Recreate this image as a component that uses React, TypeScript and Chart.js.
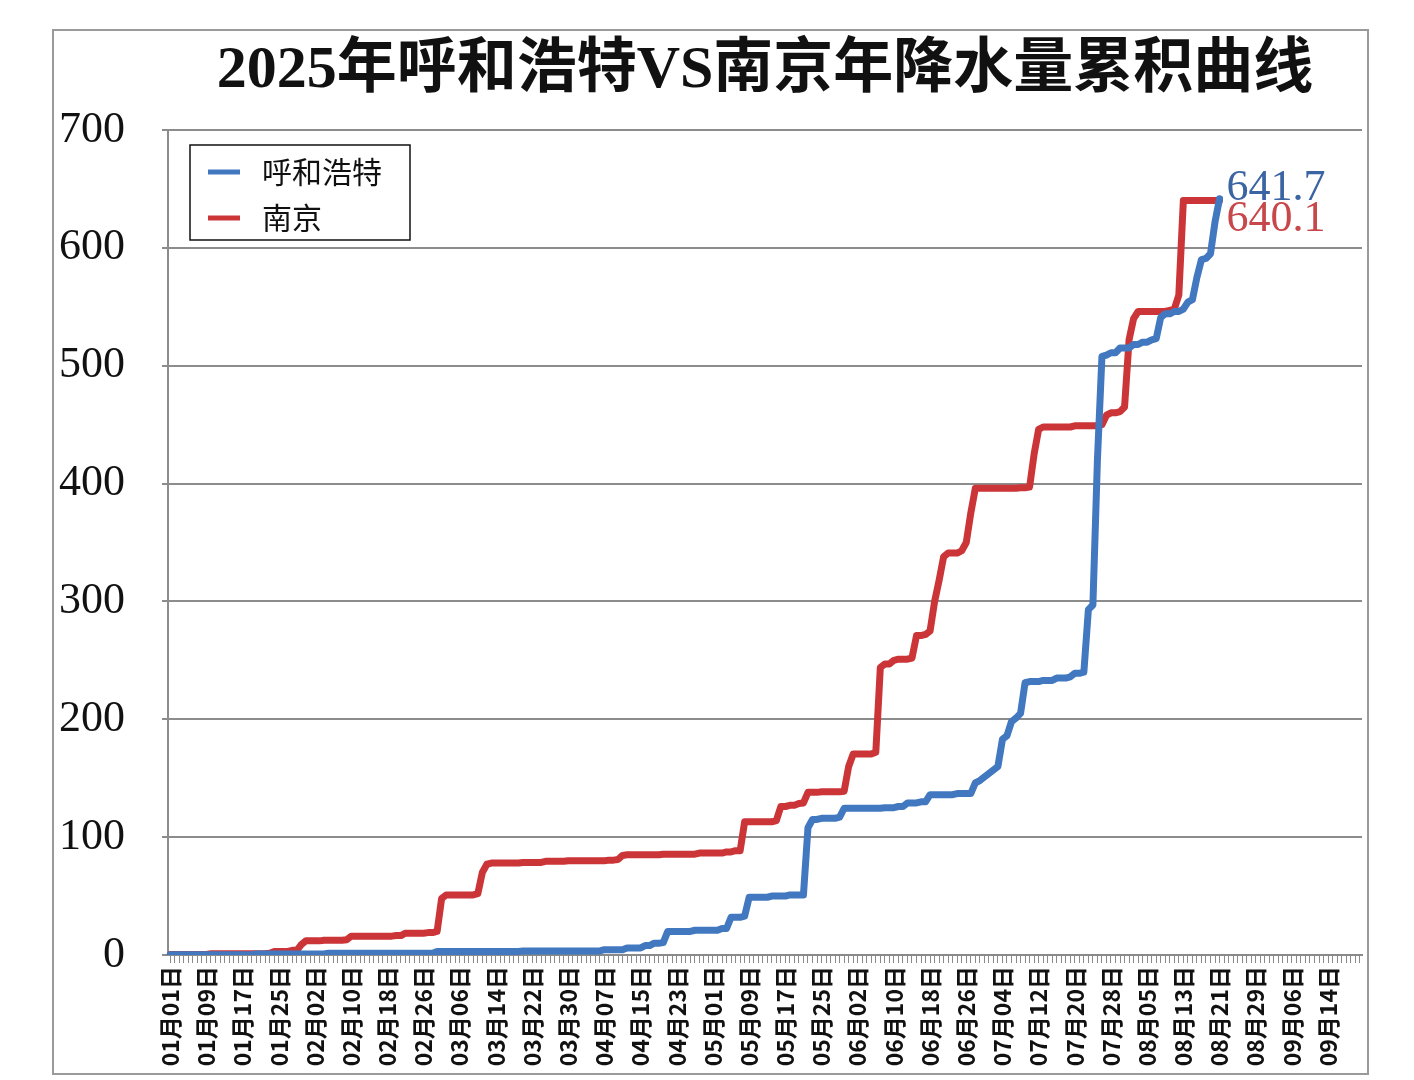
import React, { useEffect, useRef } from 'react';
import { Chart, registerables } from 'chart.js';

Chart.register(...registerables);

const TITLE = '2025年呼和浩特VS南京年降水量累积曲线';
const SERIES_NAMES = ['呼和浩特', '南京'];
const SERIES_COLORS = ['#4178c0', '#cc3538'];
const END_LABEL_COLORS = ['#3b64a3', '#c8474a'];

// Category axis: every day from 01-01 to 09-21
const AXIS_MONTH_DAYS = [31, 28, 31, 30, 31, 30, 31, 31, 21];
const LABEL_EVERY = 8;
const DATA_END = '08-21';

const Y_MIN = 0;
const Y_MAX = 700;
const Y_STEP = 100;

// 呼和浩特: cumulative precipitation (mm) on the days it changed
const hhhtDates = [
  '01-01', '01-20', '02-05', '03-01', '03-20', '04-07', '04-12', '04-16', '04-18', '04-20',
  '04-21', '04-27', '05-03', '05-05', '05-08', '05-09', '05-14', '05-18', '05-22', '05-23',
  '05-25', '05-29', '05-30', '06-08', '06-11', '06-13', '06-16', '06-18', '06-24', '06-28',
  '06-29', '06-30', '07-01', '07-02', '07-03', '07-04', '07-05', '07-06', '07-07', '07-08',
  '07-09', '07-10', '07-13', '07-16', '07-19', '07-20', '07-22', '07-23', '07-24', '07-25',
  '07-26', '07-27', '07-28', '07-30', '08-02', '08-04', '08-06', '08-07', '08-08', '08-09',
  '08-11', '08-13', '08-14', '08-15', '08-16', '08-17', '08-18', '08-19', '08-20', '08-21',
];
const hhhtTotals = [
  0.3, 0.8, 1.5, 3.0, 3.5, 4.5, 6.0, 8.0, 10.0, 10.5,
  20.0, 21.0, 22.5, 32.0, 33.0, 49.0, 50.0, 51.0, 108.0, 115.0,
  116.0, 117.0, 124.5, 125.0, 126.0, 129.0, 130.0, 136.0, 137.0, 146.0,
  148.0, 151.0, 154.0, 157.0, 160.0, 183.0, 186.0, 198.0, 201.0, 205.0,
  231.0, 232.0, 233.0, 235.0, 236.0, 239.0, 240.0, 293.0, 297.0, 420.0,
  508.0, 509.0, 511.0, 515.0, 518.0, 520.0, 522.0, 523.0, 541.0, 544.0,
  546.0, 548.0, 554.0, 556.0, 575.0, 590.0, 591.0, 595.0, 622.0, 641.7,
];

// 南京: cumulative precipitation (mm) on the days it changed
const njDates = [
  '01-01', '01-10', '01-23', '01-24', '01-28', '01-30', '01-31', '02-04', '02-09', '02-10',
  '02-20', '02-22', '02-27', '03-01', '03-02', '03-03', '03-10', '03-11', '03-12', '03-13',
  '03-20', '03-25', '03-30', '04-08', '04-10', '04-11', '04-12', '04-20', '04-28', '05-04',
  '05-06', '05-08', '05-15', '05-16', '05-18', '05-20', '05-21', '05-22', '05-25', '05-30',
  '05-31', '06-01', '06-06', '06-07', '06-08', '06-10', '06-11', '06-14', '06-15', '06-17',
  '06-18', '06-19', '06-20', '06-21', '06-22', '06-25', '06-26', '06-27', '06-28', '07-08',
  '07-10', '07-11', '07-12', '07-13', '07-20', '07-26', '07-27', '07-28', '07-30', '07-31',
  '08-01', '08-02', '08-03', '08-10', '08-11', '08-12', '08-13',
];
const njTotals = [
  0.5, 1.0, 1.5, 3.0, 4.0, 9.0, 12.0, 12.5, 13.0, 16.0,
  16.5, 18.5, 19.0, 20.0, 48.0, 51.0, 52.0, 70.0, 77.0, 78.0,
  78.5, 79.5, 80.0, 80.5, 81.0, 84.5, 85.0, 85.5, 86.5, 87.5,
  88.5, 113.0, 114.0, 126.0, 127.0, 128.5, 129.0, 138.0, 138.5, 139.0,
  160.0, 170.5, 172.0, 244.0, 247.0, 250.0, 251.0, 252.0, 271.0, 272.0,
  275.0, 300.0, 318.0, 338.0, 341.0, 343.0, 350.0, 375.0, 396.0, 396.5,
  397.0, 425.0, 446.0, 448.0, 449.0, 450.0, 458.0, 460.0, 461.0, 465.0,
  522.0, 540.0, 546.0, 547.0, 548.0, 560.0, 640.1,
];

const pad2 = (n: number) => (n < 10 ? '0' + n : '' + n);

const dayKeys: string[] = [];
const dayLabels: string[] = [];
AXIS_MONTH_DAYS.forEach((days, m) => {
  for (let d = 1; d <= days; d++) {
    dayKeys.push(`${pad2(m + 1)}-${pad2(d)}`);
    dayLabels.push(`${pad2(m + 1)}月${pad2(d)}日`);
  }
});

// running total held between rain days (a cumulative curve is flat on dry days)
function toDaily(dates: string[], totals: number[]): (number | null)[] {
  let j = -1;
  return dayKeys.map((k) => {
    if (k > DATA_END) return null;
    while (j + 1 < dates.length && dates[j + 1] <= k) j++;
    return j >= 0 ? totals[j] : null;
  });
}

const CJK = '"Noto Sans CJK SC"';
const SERIF = '"Liberation Serif"';

const framePlugin = {
  id: 'frame',
  beforeDraw(chart: any) {
    const { ctx, width, height } = chart;
    ctx.save();
    ctx.fillStyle = '#ffffff';
    ctx.fillRect(0, 0, width, height);
    ctx.strokeStyle = '#9a9a9a';
    ctx.lineWidth = 2;
    ctx.strokeRect(53, 30, 1315, 1044);
    ctx.restore();
  },
};

const overlayPlugin = {
  id: 'overlay',
  afterDraw(chart: any) {
    const { ctx, chartArea } = chart;
    ctx.save();
    // title
    ctx.fillStyle = '#111111';
    ctx.font = `bold 60px ${SERIF}, ${CJK}`;
    ctx.textAlign = 'center';
    ctx.textBaseline = 'middle';
    ctx.fillText(TITLE, (chartArea.left + chartArea.right) / 2, 71);

    // legend box
    const bx = chartArea.left + 22;
    const by = chartArea.top + 15;
    ctx.fillStyle = '#ffffff';
    ctx.fillRect(bx, by, 220, 95);
    ctx.strokeStyle = '#111111';
    ctx.lineWidth = 1.5;
    ctx.strokeRect(bx, by, 220, 95);
    chart.data.datasets.forEach((ds: any, i: number) => {
      const yy = by + 27 + i * 46;
      ctx.strokeStyle = ds.borderColor;
      ctx.lineWidth = 5;
      ctx.beginPath();
      ctx.moveTo(bx + 18, yy);
      ctx.lineTo(bx + 50, yy);
      ctx.stroke();
      ctx.fillStyle = '#111111';
      ctx.font = `30px ${CJK}`;
      ctx.textAlign = 'left';
      ctx.textBaseline = 'middle';
      ctx.fillText(ds.label, bx + 72, yy);
    });

    // end value labels
    const offsets = [-10, 19];
    chart.data.datasets.forEach((ds: any, i: number) => {
      const meta = chart.getDatasetMeta(i);
      let last = -1;
      ds.data.forEach((v: any, k: number) => {
        if (v !== null && v !== undefined) last = k;
      });
      if (last < 0) return;
      const pt = meta.data[last];
      ctx.fillStyle = END_LABEL_COLORS[i];
      ctx.font = `44px ${SERIF}`;
      ctx.textAlign = 'left';
      ctx.textBaseline = 'middle';
      ctx.fillText(Number(ds.data[last]).toFixed(1), pt.x + 7, pt.y + offsets[i]);
    });
    ctx.restore();
  },
};

export default function App() {
  const ref = useRef<HTMLCanvasElement | null>(null);

  useEffect(() => {
    if (!ref.current) return;
    const chart = new Chart(ref.current, {
      type: 'line',
      data: {
        labels: dayLabels,
        datasets: [
          {
            label: SERIES_NAMES[0],
            data: toDaily(hhhtDates, hhhtTotals),
            borderColor: SERIES_COLORS[0],
            backgroundColor: SERIES_COLORS[0],
            borderWidth: 7,
            pointRadius: 0,
            tension: 0,
            borderJoinStyle: 'round',
            borderCapStyle: 'round',
            spanGaps: false,
          },
          {
            label: SERIES_NAMES[1],
            data: toDaily(njDates, njTotals),
            borderColor: SERIES_COLORS[1],
            backgroundColor: SERIES_COLORS[1],
            borderWidth: 7,
            pointRadius: 0,
            tension: 0,
            borderJoinStyle: 'round',
            borderCapStyle: 'round',
            spanGaps: false,
          },
        ],
      },
      options: {
        responsive: false,
        animation: false,
        devicePixelRatio: 1,
        layout: { padding: { top: 130, left: 40, right: 52, bottom: 0 } },
        plugins: {
          legend: { display: false },
          title: { display: false },
          tooltip: { enabled: false },
        },
        scales: {
          x: {
            type: 'category',
            offset: true,
            grid: {
              display: true,
              drawOnChartArea: false,
              drawTicks: true,
              tickLength: 8,
              color: '#8a8a8a',
              lineWidth: 1,
            },
            border: { display: true, color: '#8a8a8a', width: 2 },
            ticks: {
              autoSkip: false,
              minRotation: 90,
              maxRotation: 90,
              padding: 3,
              color: '#111111',
              font: { family: CJK, size: 23, weight: 'bold' },
              callback: (_v: any, i: number) => (i % LABEL_EVERY === 0 ? dayLabels[i] : ''),
            },
            afterFit: (s: any) => {
              s.height = 125;
            },
          },
          y: {
            min: Y_MIN,
            max: Y_MAX,
            ticks: {
              stepSize: Y_STEP,
              padding: 37,
              color: '#111111',
              font: { family: 'Liberation Serif', size: 44 },
            },
            grid: { color: '#8c8c8c', lineWidth: 2, tickLength: 6 },
            border: { display: true, color: '#8c8c8c', width: 2 },
            afterFit: (s: any) => {
              s.width = 128;
            },
          },
        },
      },
      plugins: [framePlugin, overlayPlugin],
    } as any);
    return () => chart.destroy();
  }, []);

  return (
    <div style={{ position: 'fixed', left: 0, top: 0, width: 1414, height: 1080, background: '#ffffff' }}>
      <canvas ref={ref} width={1414} height={1080} style={{ display: 'block' }} />
    </div>
  );
}
